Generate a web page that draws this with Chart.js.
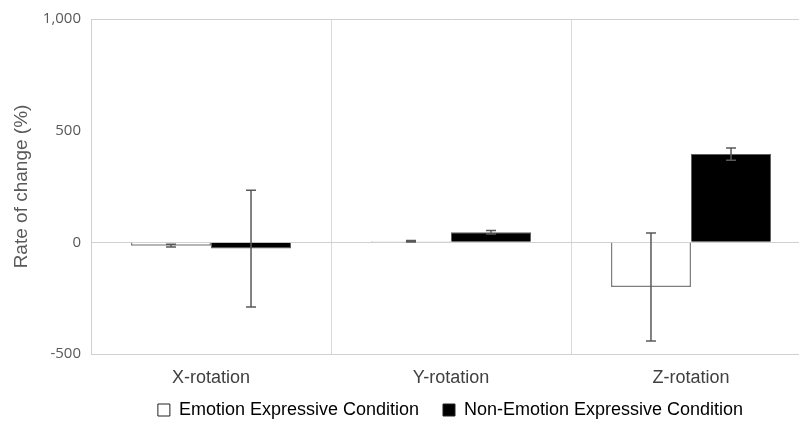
<!DOCTYPE html>
<html>
<head>
<meta charset="utf-8">
<script src="https://cdn.jsdelivr.net/npm/chart.js@4/dist/chart.umd.min.js"></script>
<style>
  html, body { margin: 0; padding: 0; background: #fff; overflow: hidden; }
  #wrap { position: absolute; left: 0; top: 0; width: 902px; height: 424px; }
</style>
</head>
<body>
<div id="wrap"><canvas id="rateChart" width="902" height="424"></canvas></div>
<script>
  // Données
  var categories = ['X-rotation', 'Y-rotation', 'Z-rotation'];
  var emotionValues = [-15, 5, -200];
  var emotionErrors = [6, 3, 242];
  var nonEmotionValues = [-28, 45, 395];
  var nonEmotionErrors = [261, 8, 27];
  var yTicks = [-500, 0, 500, 1000];

  // Barres d'erreur dessinées après les barres
  var errorBarsPlugin = {
    id: 'errorBars',
    afterDatasetsDraw: function (chart) {
      var ctx = chart.ctx;
      var yScale = chart.scales.y;
      ctx.save();
      ctx.strokeStyle = '#595959';
      ctx.lineWidth = 1.5;
      chart.data.datasets.forEach(function (ds, i) {
        var meta = chart.getDatasetMeta(i);
        meta.data.forEach(function (bar, j) {
          var v = ds.data[j];
          var e = ds.errors[j];
          var x = bar.x;
          var yTop = yScale.getPixelForValue(v + e);
          var yBot = yScale.getPixelForValue(v - e);
          ctx.beginPath();
          ctx.moveTo(x, yTop);
          ctx.lineTo(x, yBot);
          ctx.moveTo(x - 5, yTop);
          ctx.lineTo(x + 5, yTop);
          ctx.moveTo(x - 5, yBot);
          ctx.lineTo(x + 5, yBot);
          ctx.stroke();
        });
      });
      ctx.restore();
    }
  };

  // Remonte la légende sous les libellés et la centre sous la zone du graphique
  var legendShiftPlugin = {
    id: 'legendShift',
    afterLayout: function (chart) {
      var lg = chart.legend;
      if (!lg) return;
      lg.top -= 19;
      lg.bottom -= 19;
      lg.left += 45;
      lg.right += 45;
    }
  };

  new Chart(document.getElementById('rateChart'), {
    type: 'bar',
    data: {
      labels: categories,
      datasets: [{
        label: 'Emotion Expressive Condition',
        data: emotionValues,
        errors: emotionErrors,
        backgroundColor: '#ffffff',
        borderColor: '#7f7f7f',
        borderWidth: 1.5
      }, {
        label: 'Non-Emotion Expressive Condition',
        data: nonEmotionValues,
        errors: nonEmotionErrors,
        backgroundColor: '#000000',
        borderColor: '#606060',
        borderWidth: 1
      }]
    },
    options: {
      responsive: false,
      animation: false,
      layout: { padding: { top: 14, right: 91, bottom: -24, left: 0 } },
      datasets: { bar: { categoryPercentage: 0.667, barPercentage: 1 } },
      plugins: {
        tooltip: { enabled: false },
        legend: {
          position: 'bottom',
          labels: {
            color: '#111',
            font: { family: 'Liberation Sans, Arial', size: 18 },
            boxWidth: 12,
            boxHeight: 12,
            padding: 24,
            generateLabels: function (chart) {
              return chart.data.datasets.map(function (ds, i) {
                return {
                  text: ds.label,
                  fillStyle: ds.backgroundColor,
                  strokeStyle: '#222',
                  lineWidth: 1,
                  datasetIndex: i
                };
              });
            }
          }
        }
      },
      scales: {
        x: {
          grid: { offset: true, color: '#d9d9d9', drawTicks: false },
          border: { color: '#d0d0d0' },
          ticks: {
            color: '#404040',
            padding: 13,
            font: { family: 'Liberation Sans, Arial', size: 18 }
          },
          afterFit: function (scale) { scale.height = 42; }
        },
        y: {
          min: -500,
          max: 1000,
          afterBuildTicks: function (scale) {
            scale.ticks = yTicks.map(function (v) { return { value: v }; });
          },
          grid: {
            drawTicks: false,
            color: function (c) {
              return c.tick && c.tick.value === 500 ? 'rgba(0,0,0,0)' : '#d0d0d0';
            }
          },
          border: { color: '#d0d0d0' },
          ticks: {
            color: '#595959',
            padding: 10,
            font: { family: 'Open Sans', size: 15 }
          },
          title: {
            display: true,
            text: 'Rate of change (%)',
            color: '#595959',
            padding: { top: 10, bottom: 0 },
            font: { family: 'Liberation Sans, Arial', size: 19 }
          },
          afterFit: function (scale) { scale.width = 91; }
        }
      }
    },
    plugins: [errorBarsPlugin, legendShiftPlugin]
  });
</script>
</body>
</html>
